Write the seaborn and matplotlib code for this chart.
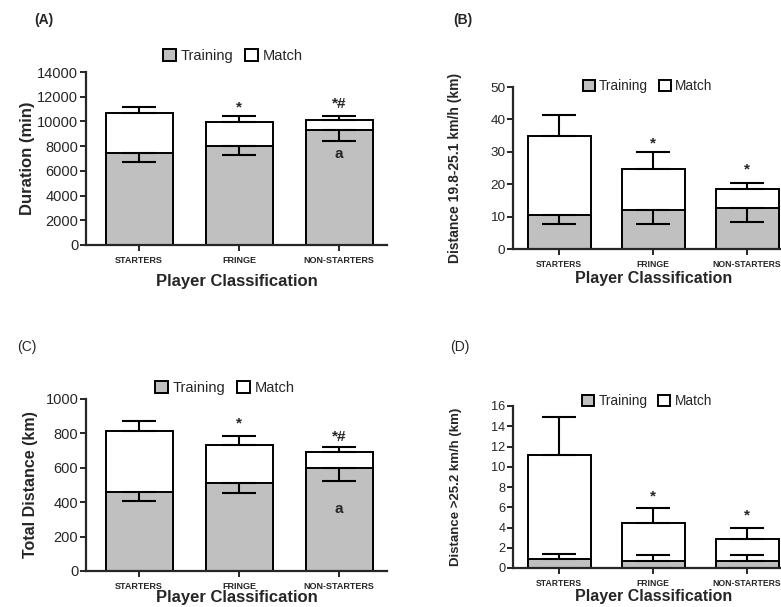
import numpy as np
import pandas as pd
import matplotlib
matplotlib.use("Agg")
import matplotlib.pyplot as plt
from matplotlib.patches import Patch
import seaborn as sns

categories = ["STARTERS", "FRINGE", "NON-STARTERS"]

# Panel A - Duration (min)
a_training = [7450, 8000, 9300]
a_training_err = [700, 700, 900]
a_total = [10680, 9950, 10150]
a_match_err = [480, 450, 270]

# Panel B - Distance 19.8-25.1 km/h (km)
b_training = [10.6, 11.9, 12.6]
b_training_err = [3.0, 4.3, 4.2]
b_total = [34.9, 24.8, 18.5]
b_match_err = [6.4, 5.0, 1.9]

# Panel C - Total distance (km)
c_training = [459, 514, 600]
c_training_err = [54, 61, 75]
c_total = [815, 734, 692]
c_match_err = [60, 51, 29]

# Panel D - Distance >25.2 km/h (km)
d_training = [0.9, 0.7, 0.65]
d_training_err = [0.5, 0.6, 0.65]
d_total = [11.2, 4.4, 2.9]
d_match_err = [3.75, 1.5, 1.1]

sns.set_theme(style="ticks")
plt.rcParams["font.family"] = ["Liberation Sans", "DejaVu Sans"]

GRAY = "#c0c0c0"
EDGE_LW = 1.4

fig = plt.figure(figsize=(7.81, 6.07), dpi=100)


def panel(rect, training, tr_err, total, m_err, ylim, yticks, ylabel, tick_fs,
          ylab_fs, ylab_x, xlab_fs, xlab_y, leg_xy, leg_fs, tr_up, capsize,
          xlim, annotations, tick_lab_fs):
    ax = fig.add_axes(rect)
    df = pd.DataFrame({"cls": categories, "training": training, "total": total})
    sns.barplot(data=df, x="cls", y="total", color="white", saturation=1,
                edgecolor="black", linewidth=EDGE_LW, width=0.67,
                errorbar=None, ax=ax, zorder=2)
    sns.barplot(data=df, x="cls", y="training", color=GRAY, saturation=1,
                edgecolor="black", linewidth=EDGE_LW, width=0.67,
                errorbar=None, ax=ax, zorder=2)
    pos = np.arange(len(categories))
    zeros = np.zeros(len(categories))
    ax.errorbar(pos, total, yerr=[zeros, m_err], fmt="none", ecolor="black",
                elinewidth=1.5, capsize=capsize, capthick=1.5, zorder=3)
    if tr_up:
        tr_yerr = [zeros, tr_err]
    else:
        tr_yerr = [tr_err, zeros]
    ax.errorbar(pos, training, yerr=tr_yerr, fmt="none", ecolor="black",
                elinewidth=1.5, capsize=capsize, capthick=1.5, zorder=3)
    ax.set_ylim(*ylim)
    ax.set_xlim(*xlim)
    ax.set_yticks(yticks)
    ax.tick_params(axis="y", labelsize=tick_fs, width=1.4, length=4, pad=1.5)
    ax.tick_params(axis="x", labelsize=tick_lab_fs, width=1.4, length=4, pad=4)
    for lab in ax.get_xticklabels():
        lab.set_fontweight("bold")
    for s in ["top", "right"]:
        ax.spines[s].set_visible(False)
    for s in ["left", "bottom"]:
        ax.spines[s].set_linewidth(1.6)
    ax.set_ylabel(ylabel, fontsize=ylab_fs, fontweight="bold")
    ax.yaxis.set_label_coords(ylab_x, 0.5)
    ax.set_xlabel("Player Classification", fontsize=xlab_fs, fontweight="bold")
    ax.xaxis.set_label_coords(0.5, xlab_y)
    handles = [Patch(facecolor=GRAY, edgecolor="black", linewidth=1.4, label="Training"),
               Patch(facecolor="white", edgecolor="black", linewidth=1.4, label="Match")]
    ax.legend(handles=handles, loc="center", bbox_to_anchor=leg_xy, ncol=2,
              frameon=False, fontsize=leg_fs, handlelength=0.9, handleheight=0.9,
              handletextpad=0.3, columnspacing=0.8, borderpad=0)
    for xi, yv, txt in annotations:
        ax.text(xi, yv, txt, ha="center", va="center", fontsize=11,
                fontweight="bold", zorder=4)
    return ax


# Panel A
panel([86 / 781, 1 - 245 / 607, 301 / 781, 173 / 607],
      a_training, a_training_err, a_total, a_match_err,
      (0, 14000), np.arange(0, 14001, 2000), "Duration (min)", 10.5,
      12, -0.169, 12, -0.165, (0.488, 1.092), 10.5, False, 12.5,
      (-0.53, 2.48),
      [(1, 11150, "*"), (2, 11450, "*#"), (2, 7350, "a")], 6.5)

# Panel B
panel([513 / 781, 1 - 249 / 607, 282 / 781, 162 / 607],
      b_training, b_training_err, b_total, b_match_err,
      (0, 50), np.arange(0, 51, 10), "Distance 19.8-25.1 km/h (km)", 9.7,
      10, -0.181, 11.5, -0.135, (0.477, 1.006), 9.8, False, 12,
      (-0.49, 2.51),
      [(1, 32.5, "*"), (2, 24.5, "*")], 6.2)

# Panel C
panel([86 / 781, 1 - 571 / 607, 301 / 781, 172 / 607],
      c_training, c_training_err, c_total, c_match_err,
      (0, 1000), np.arange(0, 1001, 200), "Total Distance (km)", 10.5,
      11.5, -0.159, 12, -0.11, (0.462, 1.064), 10.5, False, 12.5,
      (-0.53, 2.48),
      [(1, 855, "*"), (2, 780, "*#"), (2, 360, "a")], 6.5)

# Panel D
panel([513 / 781, 1 - 568 / 607, 282 / 781, 162 / 607],
      d_training, d_training_err, d_total, d_match_err,
      (0, 16), np.arange(0, 17, 2), "Distance >25.2 km/h (km)", 9.2,
      9.5, -0.181, 11.5, -0.128, (0.475, 1.031), 9.8, True, 12,
      (-0.49, 2.51),
      [(1, 7.1, "*"), (2, 5.2, "*")], 6.2)

fig.text(34 / 781, 1 - 20 / 607, "(A)", fontsize=10, fontweight="bold", ha="left", va="center")
fig.text(453 / 781, 1 - 20 / 607, "(B)", fontsize=10, fontweight="bold", ha="left", va="center")
fig.text(17 / 781, 1 - 347 / 607, "(C)", fontsize=10, ha="left", va="center")
fig.text(450 / 781, 1 - 347 / 607, "(D)", fontsize=10, ha="left", va="center")

fig.savefig("out.png", dpi=100)
